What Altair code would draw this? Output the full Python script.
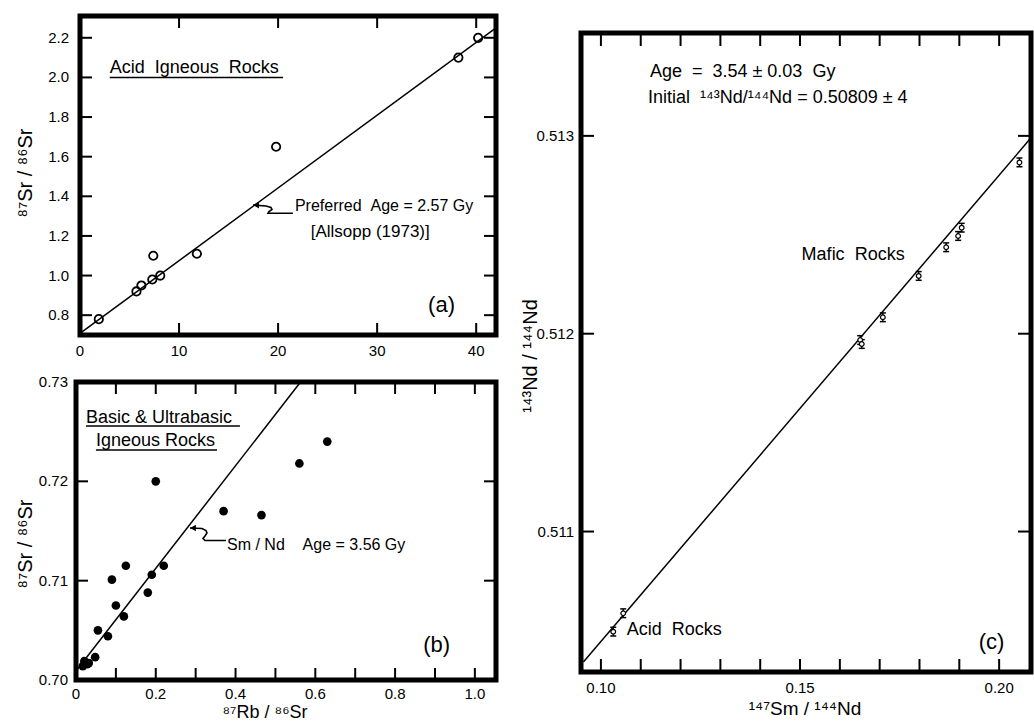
import altair as alt
import pandas as pd

FONT = "Liberation Sans"

# ---------------- Panel (a): Acid igneous rocks, Rb/Sr ----------------
a_rb = [1.9, 5.7, 6.2, 7.3, 7.4, 8.1, 11.8, 19.8, 38.2, 40.2]
a_sr = [0.78, 0.92, 0.95, 0.98, 1.10, 1.00, 1.11, 1.65, 2.10, 2.20]
a_fit_x = [0.0, 42.0]
a_fit_y = [0.708, 2.25]
a_xtick_vals = [10, 20, 30, 40]
a_xlabel_vals = [0, 10, 20, 30, 40]
a_xlabel_txt = ["0", "10", "20", "30", "40"]
a_ytick_vals = [0.8, 1.0, 1.2, 1.4, 1.6, 1.8, 2.0, 2.2]
a_ylabel_txt = ["0.8", "1.0", "1.2", "1.4", "1.6", "1.8", "2.0", "2.2"]
a_arrow_x = [17.47, 18.78, 19.28, 19.38, 19.08, 18.98, 21.5]
a_arrow_y = [1.356, 1.351, 1.3435, 1.3334, 1.3233, 1.3142, 1.3142]

# ---------------- Panel (b): Basic & ultrabasic rocks ----------------
b_rb = [0.20, 0.63, 0.56, 0.37, 0.465, 0.125, 0.22, 0.09, 0.19, 0.18,
        0.10, 0.12, 0.055, 0.08, 0.048, 0.021, 0.032, 0.017, 0.028]
b_sr = [0.7200, 0.7240, 0.7218, 0.7170, 0.7166, 0.7115, 0.7115, 0.7101, 0.7106, 0.7088,
        0.7075, 0.7064, 0.7050, 0.7044, 0.7023, 0.7019, 0.7017, 0.7014, 0.7016]
b_fit_x = [0.0, 0.563]
b_fit_y = [0.7009, 0.7300]
b_xtick_vals = [0.1, 0.2, 0.3, 0.4, 0.5, 0.6, 0.7, 0.8, 0.9, 1.0]
b_xlabel_vals = [0.0, 0.2, 0.4, 0.6, 0.8, 1.0]
b_xlabel_txt = ["0", "0.2", "0.4", "0.6", "0.8", "1.0"]
b_ytick_vals = [0.71, 0.72]
b_ylabel_vals = [0.70, 0.71, 0.72, 0.73]
b_ylabel_txt = ["0.70", "0.71", "0.72", "0.73"]
b_arrow_x = [0.2858, 0.3159, 0.3259, 0.3284, 0.3234, 0.3184, 0.3234, 0.3761]
b_arrow_y = [0.71530, 0.71525, 0.71505, 0.71480, 0.71450, 0.71424, 0.71404, 0.71404]

# ---------------- Panel (c): Sm/Nd isochron ----------------
c_sm = [0.1031, 0.1056, 0.1651, 0.1655, 0.1708, 0.1798, 0.1867, 0.1897, 0.1906, 0.2051]
c_nd = [0.510494, 0.510587, 0.511968, 0.511948, 0.512083, 0.512292, 0.512437,
        0.512494, 0.512536, 0.512866]
c_err = [0.000022] * 10
c_fit_x = [0.0956, 0.2080]
c_fit_y = [0.51034, 0.51299]
c_xtick_vals = [0.10, 0.11, 0.12, 0.13, 0.14, 0.15, 0.16, 0.17, 0.18, 0.19, 0.20]
c_xlabel_vals = [0.10, 0.15, 0.20]
c_xlabel_txt = ["0.10", "0.15", "0.20"]
c_ytick_vals = [0.511, 0.512, 0.513]
c_ylabel_txt = ["0.511", "0.512", "0.513"]

NB = "\u00a0"


def sc(domain, rng):
    return alt.Scale(domain=domain, range=rng, nice=False, zero=False)


def fit_and_ticks(ex, ey, box, xdom, ydom, fit_x, fit_y, xticks, yticks, tick=12):
    """One line layer holding the isochron line (group 0) and every inward tick
    (one two-point group each), drawn through the panel's scales."""
    left, right, top, bottom = box
    ty = tick * (ydom[1] - ydom[0]) / (bottom - top)
    tx = tick * (xdom[1] - xdom[0]) / (right - left)
    X, Y, G, O, W = [], [], [], [], []

    def seg(x0, y0, x1, y1, g, w):
        X.extend([x0, x1]); Y.extend([y0, y1]); G.extend([g, g]); O.extend([0, 1]); W.extend([w, w])

    seg(fit_x[0], fit_y[0], fit_x[1], fit_y[1], 0, 1.5)
    g = 1
    for v in xticks:
        seg(v, ydom[0], v, ydom[0] + ty, g, 2.0); g += 1
        seg(v, ydom[1], v, ydom[1] - ty, g, 2.0); g += 1
    for v in yticks:
        seg(xdom[0], v, xdom[0] + tx, v, g, 2.0); g += 1
        seg(xdom[1], v, xdom[1] - tx, v, g, 2.0); g += 1
    df = pd.DataFrame({"x": X, "y": Y, "g": G, "o": O, "w": W})
    return alt.Chart(df).mark_line(color="black").encode(
        x=ex("x"), y=ey("y"), detail="g:N", order="o:Q",
        strokeWidth=alt.StrokeWidth("w:Q", scale=None, legend=None))


def panel(X, Y, xdom, ydom, xlab_vals, xlab_txt, xlab_y, ylab_vals, ylab_txt, ylab_x):
    ex = lambda f: alt.X(f + ":Q", scale=X, axis=None)
    ey = lambda f: alt.Y(f + ":Q", scale=Y, axis=None)
    labels = [
        alt.Chart(pd.DataFrame({"v": xlab_vals, "t": xlab_txt})).mark_text(
            font=FONT, fontSize=15, baseline="middle", align="center", color="black").encode(
            x=ex("v"), y=alt.value(xlab_y), text="t:N"),
        alt.Chart(pd.DataFrame({"v": ylab_vals, "t": ylab_txt})).mark_text(
            font=FONT, fontSize=15, baseline="middle", align="right", color="black").encode(
            y=ey("v"), x=alt.value(ylab_x), text="t:N"),
    ]
    frame = alt.Chart(pd.DataFrame({"x0": [xdom[0]], "x1": [xdom[1]],
                                    "y0": [ydom[0]], "y1": [ydom[1]]})).mark_rect(
        filled=False, stroke="black", strokeWidth=5, opacity=1).encode(
        x=ex("x0"), x2=alt.X2("x1"), y=ey("y0"), y2=alt.Y2("y1"))
    return labels, frame, ex, ey


def txt(ex, ey, x, y, s, size=16, align="left", angle=0):
    return alt.Chart(pd.DataFrame({"x": [x], "y": [y], "t": [s]})).mark_text(
        font=FONT, fontSize=size, align=align, baseline="middle", color="black",
        angle=angle).encode(x=ex("x"), y=ey("y"), text="t:N")


def line(ex, ey, xs, ys, w=1.5):
    return alt.Chart(pd.DataFrame({"x": xs, "y": ys, "o": list(range(len(xs)))})).mark_line(
        color="black", strokeWidth=w).encode(x=ex("x"), y=ey("y"), order="o:Q")


def head(ex, ey, x, y):
    return alt.Chart(pd.DataFrame({"x": [x], "y": [y]})).mark_point(
        shape="triangle-left", filled=True, size=45, color="black", opacity=1,
        xOffset=3).encode(x=ex("x"), y=ey("y"))


def ptitle(x, y, s, angle=270, baseline="middle", size=20):
    return alt.Chart(pd.DataFrame({"t": [s]})).mark_text(
        font=FONT, fontSize=size, align="center", baseline=baseline, angle=angle,
        color="black").encode(x=alt.value(x), y=alt.value(y), text="t:N")


# ----- Panel a -----
A_box = (80, 496, 16, 335)
A_xd, A_yd = [0, 42], [0.70, 2.31]
AX, AY = sc(A_xd, [80, 496]), sc(A_yd, [335, 16])
la, fa, ax_, ay_ = panel(AX, AY, A_xd, A_yd, a_xlabel_vals, a_xlabel_txt, 351,
                         a_ytick_vals, a_ylabel_txt, 69)
panelA = alt.layer(*(la + [
    fit_and_ticks(ax_, ay_, A_box, A_xd, A_yd, a_fit_x, a_fit_y, a_xtick_vals, a_ytick_vals),
    alt.Chart(pd.DataFrame({"x": a_rb, "y": a_sr})).mark_point(
        shape="circle", size=70, color="black", strokeWidth=1.8, filled=False,
        opacity=1).encode(x=ax_("x"), y=ay_("y")),
    txt(ax_, ay_, 3.0, 2.05, "Acid" + NB * 2 + "Igneous" + NB * 2 + "Rocks", 18),
    alt.Chart(pd.DataFrame({"x": [3.0], "x2": [20.5], "y": [2.0]})).mark_rule(
        strokeWidth=1.5, color="black").encode(x=ax_("x"), x2=alt.X2("x2"), y=ay_("y")),
    txt(ax_, ay_, 21.7, 1.351, "Preferred" + NB * 2 + "Age = 2.57 Gy", 16),
    txt(ax_, ay_, 29.3, 1.22, "[Allsopp (1973)]", 17, align="center"),
    txt(ax_, ay_, 36.5, 0.851, "(a)", 22, align="center"),
    line(ax_, ay_, a_arrow_x, a_arrow_y, 1.6),
    head(ax_, ay_, a_arrow_x[0], a_arrow_y[0]),
    ptitle(26, 173, "⁸⁷Sr / ⁸⁶Sr"),
    fa]))

# ----- Panel b -----
B_box = (76, 496, 382, 680)
B_xd, B_yd = [0, 1.053], [0.70, 0.73]
BX, BY = sc(B_xd, [76, 496]), sc(B_yd, [680, 382])
lb, fb, bx_, by_ = panel(BX, BY, B_xd, B_yd, b_xlabel_vals, b_xlabel_txt, 694,
                         b_ylabel_vals, b_ylabel_txt, 68)
panelB = alt.layer(*(lb + [
    fit_and_ticks(bx_, by_, B_box, B_xd, B_yd, b_fit_x, b_fit_y, b_xtick_vals, b_ytick_vals),
    alt.Chart(pd.DataFrame({"x": b_rb, "y": b_sr})).mark_circle(
        size=75, color="black", opacity=1).encode(x=bx_("x"), y=by_("y")),
    txt(bx_, by_, 0.025, 0.72638, "Basic & Ultrabasic", 18),
    txt(bx_, by_, 0.050, 0.72409, "Igneous" + NB + "Rocks", 18),
    alt.Chart(pd.DataFrame({"x": [0.025, 0.050], "x2": [0.411, 0.3535],
                            "y": [0.72557, 0.72315]})).mark_rule(
        strokeWidth=1.5, color="black").encode(x=bx_("x"), x2=alt.X2("x2"), y=by_("y")),
    txt(bx_, by_, 0.3786, 0.71359, "Sm / Nd" + NB * 4 + "Age = 3.56 Gy", 16),
    txt(bx_, by_, 0.904, 0.70352, "(b)", 22, align="center"),
    line(bx_, by_, b_arrow_x, b_arrow_y, 1.6),
    head(bx_, by_, b_arrow_x[0], b_arrow_y[0]),
    ptitle(26, 544, "⁸⁷Sr / ⁸⁶Sr"),
    ptitle(265, 718, "⁸⁷Rb / ⁸⁶Sr", angle=0, baseline="alphabetic", size=18),
    fb]))

# ----- Panel c -----
C_box = (581, 1031, 33, 672)
C_xd, C_yd = [0.095, 0.208], [0.51029, 0.51352]
CX, CY = sc(C_xd, [581, 1031]), sc(C_yd, [672, 33])
lc, fc, cx_, cy_ = panel(CX, CY, C_xd, C_yd, c_xlabel_vals, c_xlabel_txt, 688,
                         c_ytick_vals, c_ylabel_txt, 574)
c_df = pd.DataFrame({"x": c_sm, "y": c_nd, "lo": [v - e for v, e in zip(c_nd, c_err)],
                     "hi": [v + e for v, e in zip(c_nd, c_err)]})
panelC = alt.layer(*(lc + [
    fit_and_ticks(cx_, cy_, C_box, C_xd, C_yd, c_fit_x, c_fit_y, c_xtick_vals, c_ytick_vals,
                  tick=13),
    alt.Chart(c_df).mark_rule(strokeWidth=1.3, color="black").encode(
        x=cx_("x"), y=cy_("lo"), y2=alt.Y2("hi")),
    alt.Chart(c_df).mark_tick(orient="horizontal", size=6, thickness=1.5, color="black",
                              opacity=1).encode(x=cx_("x"), y=cy_("lo")),
    alt.Chart(c_df).mark_tick(orient="horizontal", size=6, thickness=1.5, color="black",
                              opacity=1).encode(x=cx_("x"), y=cy_("hi")),
    alt.Chart(c_df).mark_point(shape="circle", size=22, color="black", fill="white",
                               filled=True, stroke="black", strokeWidth=1.2,
                               opacity=1).encode(x=cx_("x"), y=cy_("y")),
    txt(cx_, cy_, 0.1123, 0.513324, "Age" + NB * 2 + "=" + NB * 2 + "3.54 ± 0.03" + NB * 2 + "Gy", 18),
    txt(cx_, cy_, 0.1118, 0.513191, "Initial" + NB * 2 + "¹⁴³Nd/¹⁴⁴Nd = 0.50809 ± 4", 18),
    txt(cx_, cy_, 0.1504, 0.512398, "Mafic" + NB * 2 + "Rocks", 18),
    txt(cx_, cy_, 0.1065, 0.510502, "Acid" + NB * 2 + "Rocks", 18),
    txt(cx_, cy_, 0.1981, 0.510443, "(c)", 22, align="center"),
    ptitle(531, 356, "¹⁴³Nd / ¹⁴⁴Nd"),
    ptitle(805, 715, "¹⁴⁷Sm / ¹⁴⁴Nd", angle=0, baseline="alphabetic", size=19),
    fc]))

chart = alt.layer(panelA, panelB, panelC).resolve_scale(
    x="independent", y="independent"
).properties(
    width=1034, height=723, padding=0, background="white",
    autosize=alt.AutoSizeParams(type="none")
).configure_view(stroke=None)

chart.save("out.html", embed_options={"renderer": "svg", "actions": False})
